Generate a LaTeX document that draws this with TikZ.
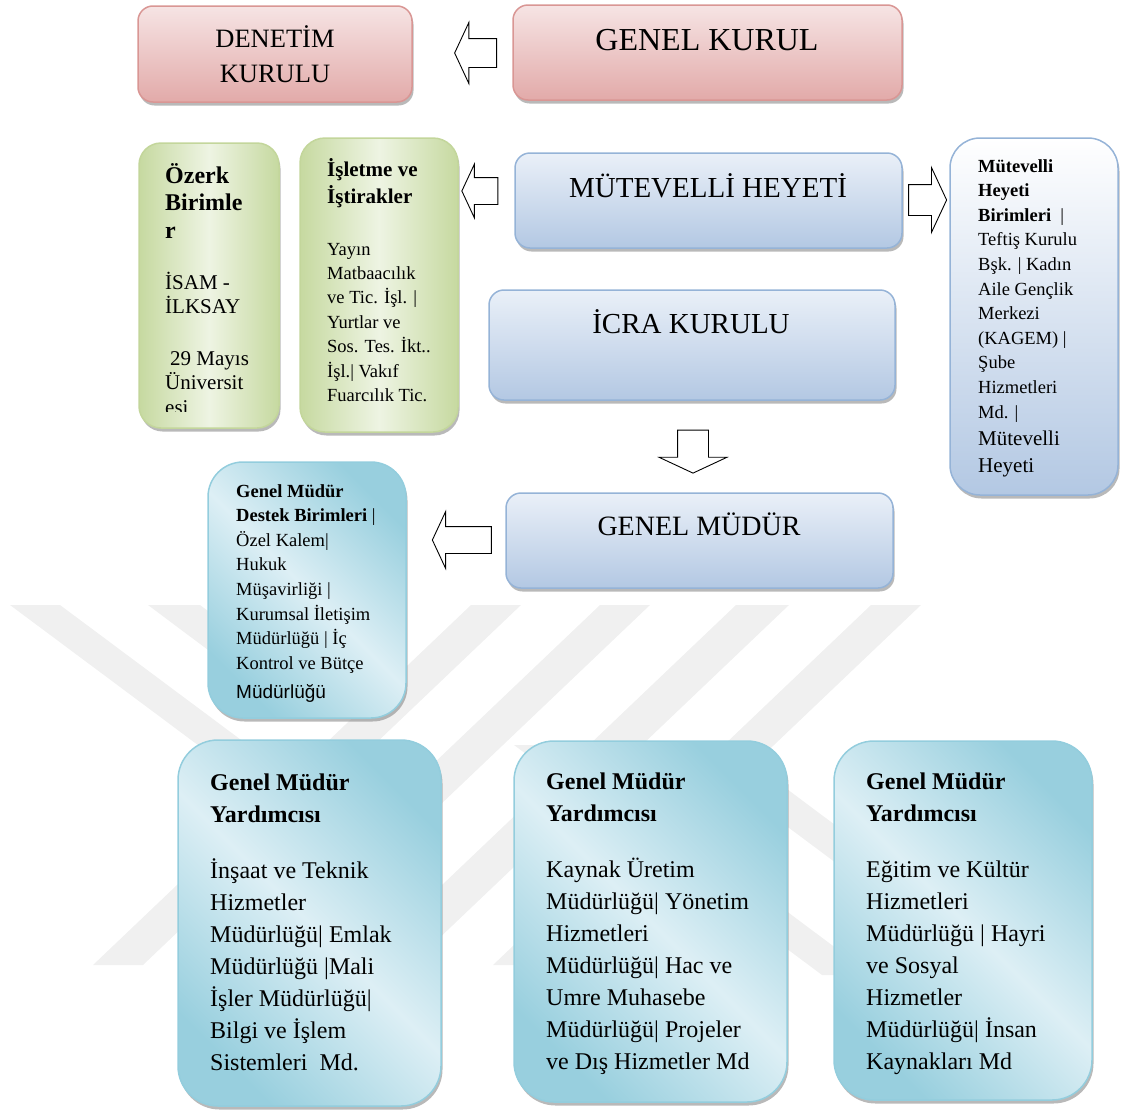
\documentclass[tikz,border=0pt]{standalone}
\usepackage{fontspec}
\setmainfont{Liberation Serif}
\newfontfamily\sansfont{Liberation Sans}
\usetikzlibrary{shapes.arrows,shadows}

\definecolor{pinkB}{HTML}{D99694}
\definecolor{pinkL}{HTML}{F6E4E4}
\definecolor{pinkD}{HTML}{E2AAA9}
\definecolor{greenB}{HTML}{C3D69B}
\definecolor{greenL}{HTML}{EEF4E3}
\definecolor{greenD}{HTML}{C6D9A0}
\definecolor{blueB}{HTML}{95B3D7}
\definecolor{blueL}{HTML}{EAF0F8}
\definecolor{blueD}{HTML}{B3C8E3}
\definecolor{cyanB}{HTML}{93CDDD}
\definecolor{cyanL}{HTML}{DDEFF5}
\definecolor{cyanD}{HTML}{98CFDE}
\definecolor{wmark}{HTML}{F0F0F0}

\tikzset{
    orgbox/.style={draw, line width=1.5pt, inner sep=0pt,
        drop shadow={shadow xshift=1.5pt, shadow yshift=-3.5pt, fill=black!50, opacity=.55}},
    pinkbox/.style={orgbox, draw=pinkB, rounded corners=15pt, top color=pinkL, bottom color=pinkD},
    greenbox/.style={orgbox, draw=greenB, rounded corners=22pt, left color=greenD, right color=greenD, middle color=greenL},
    bluebox/.style={orgbox, draw=blueB, rounded corners=15pt, top color=blueL, bottom color=blueD},
    cyanbox/.style={orgbox, draw=cyanB, rounded corners=40pt, top color=cyanD, bottom color=cyanD, middle color=cyanL, shading angle=-45},
    blockarrow/.style={single arrow, draw, fill=white, line width=0.9pt, inner sep=0pt, single arrow tip angle=130},
    boxtext/.style={anchor=base west, inner sep=0pt, align=left},
    titletext/.style={anchor=base, inner sep=0pt, align=center},
}

\begin{document}
\begin{tikzpicture}[x=1pt, y=-1pt]
    \useasboundingbox (0,0) rectangle (1121,1111);

    % watermark
    \fill [wmark] (10,605) -- (60,605) -- (268,760) -- (218,760) -- cycle;
    \fill [wmark] (148,605) -- (200,605) -- (351,718) -- (299,718) -- cycle;
    \fill [wmark] (471,605) -- (521,605) -- (143,965) -- (93,965) -- cycle;
    \fill [wmark] (600,605) -- (650,605) -- (272,965) -- (222,965) -- cycle;
    \fill [wmark] (736,605) -- (789,605) -- (411,965) -- (358,965) -- cycle;
    \fill [wmark] (871,605) -- (921,605) -- (543,965) -- (493,965) -- cycle;
    \fill [wmark] (678,745) -- (728,745) -- (1036,975) -- (986,975) -- cycle;
    \fill [wmark] (514,745) -- (564,745) -- (872,975) -- (822,975) -- cycle;

    % top row (text nodes sit on their last baseline)
    \node [pinkbox, minimum width=274, minimum height=96] (denetim) at (275,54) {};
    \node [pinkbox, minimum width=389, minimum height=95] (genelkurul) at (707.5,52.5) {};
    \node [titletext, font=\fontsize{26.5}{35}\selectfont] (denetimtxt) at (275,82) {DENETİM\\KURULU};
    \node [titletext, font=\fontsize{32}{38}\selectfont] (genelkurultxt) at (707,50) {GENEL KURUL};

    % second row
    \node [greenbox, minimum width=140, minimum height=285] (ozerk) at (209,285.5) {};
    \node [greenbox, rounded corners=25pt, minimum width=158, minimum height=294] (isletme) at (379,285) {};
    \node [bluebox, minimum width=387, minimum height=95] (mutevelli) at (708.5,200.5) {};
    \node [bluebox, rounded corners=30pt, top color=white, minimum width=168, minimum height=357] (mhbirim) at (1034,316.5) {};
    \node [bluebox, minimum width=406, minimum height=110] (icra) at (692,345) {};
    \node [titletext, font=\fontsize{29}{35}\selectfont] (mutevellitxt) at (708,197) {MÜTEVELLİ HEYETİ};
    \node [titletext, font=\fontsize{29}{35}\selectfont] (icratxt) at (691,333) {İCRA KURULU};

    \begin{scope}
        \clip (139,143) rectangle (279,411);
        \node [boxtext, font=\bfseries\fontsize{24}{27.5}\selectfont] (ozerktxt) at (165,238) {Özerk\\Birimle\\r};
        \node [boxtext, font=\fontsize{21}{24.5}\selectfont] (isamtxt) at (165,313.5) {İSAM -\\İLKSAY};
        \node [boxtext, font=\fontsize{21}{24.5}\selectfont] (mayistxt) at (165,414) {\hspace{5pt}29 Mayıs\\Üniversit\\esi};
    \end{scope}
    \node [boxtext, font=\bfseries\fontsize{21}{27}\selectfont] (isletmetxt) at (327,203) {İşletme ve\\İştirakler};
    \node [boxtext, font=\fontsize{18.5}{24.4}\selectfont] (yayintxt) at (327,401.4)
        {Yayın\\Matbaacılık\\ve Tic. İşl. |\\Yurtlar ve\\Sos. Tes. İkt..\\İşl.| Vakıf\\Fuarcılık Tic.};
    \begin{scope}
        \clip (950,138) rectangle (1118,478);
        \node [boxtext, font=\fontsize{18.5}{24.6}\selectfont] (mhbirimtxt) at (978,418)
            {\textbf{Mütevelli}\\\textbf{Heyeti}\\\textbf{Birimleri}\ \ |\\Teftiş Kurulu\\Bşk. | Kadın\\Aile Gençlik\\Merkezi\\(KAGEM) |\\Şube\\Hizmetleri\\Md. |};
        \node [boxtext, font=\fontsize{21}{27}\selectfont] (mhtxt) at (978,472) {Mütevelli\\Heyeti};
    \end{scope}

    % genel mudur row
    \node [bluebox, minimum width=387, minimum height=95] (genelmudur) at (699.5,540.5) {};
    \node [titletext, font=\fontsize{28}{34}\selectfont] (genelmudurtxt) at (699,535) {GENEL MÜDÜR};
    \node [cyanbox, rounded corners=35pt, minimum width=198, minimum height=256] (destek) at (307,590) {};
    \node [boxtext, font=\fontsize{18.5}{24.6}\selectfont] (destektxt) at (236,669.2)
        {\textbf{Genel Müdür}\\\textbf{Destek Birimleri} |\\Özel Kalem|\\Hukuk\\Müşavirliği |\\Kurumsal İletişim\\Müdürlüğü | İç\\Kontrol ve Bütçe};
    \begin{scope}
        \clip (208,462) rectangle (406,701);
        \node [boxtext, font=\sansfont\fontsize{19}{24}\selectfont] (destekson) at (236,698) {Müdürlüğü};
    \end{scope}

    % yardimci boxes
    \node [cyanbox, minimum width=263, minimum height=366] (gmya) at (309.5,923) {};
    \node [cyanbox, minimum width=273, minimum height=361] (gmyb) at (650.5,921.5) {};
    \node [cyanbox, minimum width=258, minimum height=359] (gmyc) at (963,920.5) {};
    \node [boxtext, font=\bfseries\fontsize{24}{32}\selectfont] (gmyahead) at (210,822) {Genel Müdür\\Yardımcısı};
    \node [boxtext, font=\bfseries\fontsize{24}{32}\selectfont] (gmybhead) at (546,821) {Genel Müdür\\Yardımcısı};
    \node [boxtext, font=\bfseries\fontsize{24}{32}\selectfont] (gmychead) at (866,821) {Genel Müdür\\Yardımcısı};
    \node [boxtext, font=\fontsize{24}{32}\selectfont] (gmyatxt) at (210,1070)
        {İnşaat ve Teknik\\Hizmetler\\Müdürlüğü| Emlak\\Müdürlüğü |Mali\\İşler Müdürlüğü|\\Bilgi ve İşlem\\Sistemleri\ \ Md.};
    \node [boxtext, font=\fontsize{24}{32}\selectfont] (gmybtxt) at (546,1069)
        {Kaynak Üretim\\Müdürlüğü| Yönetim\\Hizmetleri\\Müdürlüğü| Hac ve\\Umre Muhasebe\\Müdürlüğü| Projeler\\ve Dış Hizmetler Md};
    \node [boxtext, font=\fontsize{24}{32}\selectfont] (gmyctxt) at (866,1069)
        {Eğitim ve Kültür\\Hizmetleri\\Müdürlüğü | Hayri\\ve Sosyal\\Hizmetler\\Müdürlüğü| İnsan\\Kaynakları Md};

    % block arrows
    \node [blockarrow, shape border rotate=180, inner ysep=14pt, single arrow head extend=16pt, minimum height=42] (toden) at (479,53) {};
    \node [blockarrow, shape border rotate=180, inner ysep=13pt, single arrow head extend=13.5pt, minimum height=36] (toisl) at (483,191) {};
    \node [blockarrow, inner ysep=15pt, single arrow head extend=17pt, minimum height=38] (tomhb) at (924,200) {};
    \node [blockarrow, shape border rotate=270, inner sep=15pt, single arrow head extend=18.5pt, minimum height=43] (togm) at (693,448) {};
    \node [blockarrow, shape border rotate=180, inner ysep=13pt, single arrow head extend=15pt, minimum height=59] (todes) at (465,540) {};
\end{tikzpicture}
\end{document}
